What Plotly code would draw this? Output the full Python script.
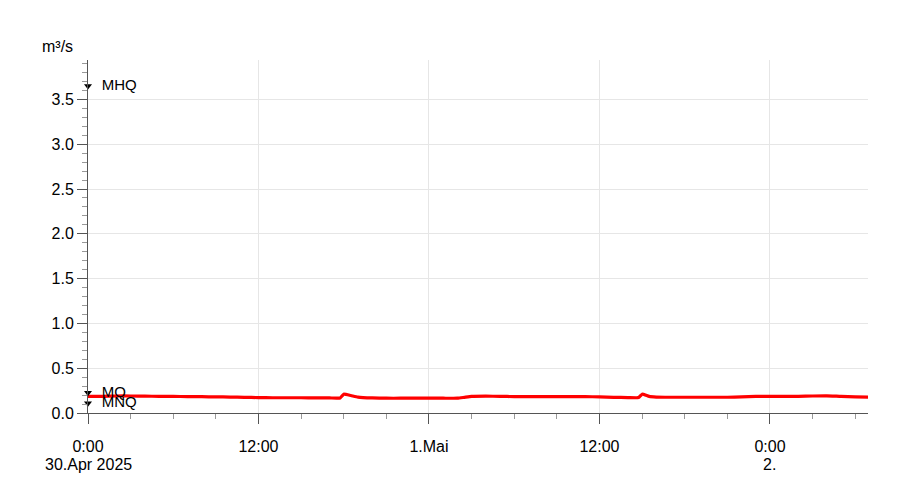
import plotly.graph_objects as go
import pandas as pd

# Hours since 30.Apr 2025 0:00 and discharge values (m³/s)
hours = [0, 1, 2, 3, 4, 5, 6, 7, 8, 9, 10, 11, 12, 13, 14, 15, 16, 17, 17.75, 18, 18.5, 19, 20, 21, 22, 23, 24, 25, 26, 26.5, 27, 28, 29, 30, 31, 32, 33, 34, 35, 36, 37, 38, 38.75, 39, 39.5, 40, 41, 42, 43, 44, 45, 46, 47, 48, 49, 50, 51, 52, 53, 54, 55]
flow = [0.185, 0.186, 0.19, 0.19, 0.188, 0.186, 0.185, 0.183, 0.182, 0.18, 0.178, 0.175, 0.172, 0.17, 0.17, 0.17, 0.168, 0.168, 0.168, 0.21, 0.195, 0.178, 0.168, 0.165, 0.165, 0.165, 0.165, 0.165, 0.165, 0.175, 0.185, 0.188, 0.186, 0.183, 0.182, 0.182, 0.182, 0.182, 0.182, 0.18, 0.175, 0.172, 0.172, 0.21, 0.185, 0.178, 0.176, 0.176, 0.176, 0.176, 0.176, 0.18, 0.185, 0.186, 0.186, 0.186, 0.19, 0.192, 0.185, 0.18, 0.178]

ref_names = ["MHQ", "MQ", "MNQ"]
ref_values = [3.65, 0.225, 0.11]

x_tick_hours = [0, 12, 24, 36, 48]
x_tick_labels = ["0:00", "12:00", "1.Mai", "12:00", "0:00"]
date_label_hours = [0, 48]
date_labels = ["30.Apr 2025", "2."]
y_tick_vals = [0.0, 0.5, 1.0, 1.5, 2.0, 2.5, 3.0, 3.5]

start = pd.Timestamp("2025-04-30 00:00")
times = [start + pd.Timedelta(hours=h) for h in hours]
tick_times = [start + pd.Timedelta(hours=h) for h in x_tick_hours]

FONT = "Liberation Sans, Arial, sans-serif"

fig = go.Figure()
fig.add_trace(go.Scatter(x=times, y=flow, mode="lines",
                         line=dict(color="#ff0000", width=3.2, shape="spline", smoothing=0.4),
                         hoverinfo="skip"))
fig.add_trace(go.Scatter(x=[start] * len(ref_values), y=ref_values, mode="markers+text",
                         marker=dict(symbol="triangle-down", size=7, color="black"),
                         text=["  " + n for n in ref_names], textposition="middle right",
                         textfont=dict(size=15, color="black", family=FONT),
                         cliponaxis=False, hoverinfo="skip"))

annotations = [dict(text="m³/s", xref="paper", yref="paper", x=-0.0615, y=1.037,
                    xanchor="left", yanchor="middle", showarrow=False,
                    font=dict(size=16, color="black"))]
for h, lab in zip(date_label_hours, date_labels):
    annotations.append(dict(text=lab, x=start + pd.Timedelta(hours=h), xref="x",
                            y=-0.145, yref="paper", xanchor="center", yanchor="middle",
                            showarrow=False, font=dict(size=16, color="black")))

fig.update_layout(
    width=892, height=488,
    margin=dict(l=80, r=32, t=52, b=83),
    paper_bgcolor="white", plot_bgcolor="white",
    showlegend=False,
    font=dict(family=FONT, size=16, color="black"),
    annotations=annotations,
)
fig.update_xaxes(
    range=[start, start + pd.Timedelta(hours=54.9)],
    tickvals=tick_times, ticktext=x_tick_labels,
    ticklabelstandoff=9,
    showgrid=True, gridcolor="#e6e6e6", gridwidth=1,
    showline=True, linecolor="#555555", linewidth=1,
    ticks="outside", ticklen=10, tickcolor="#555555",
    minor=dict(dtick=3 * 3600000, tick0=start, ticks="outside", ticklen=5, tickcolor="#999999", showgrid=False),
    zeroline=False,
)
fig.update_yaxes(
    range=[0, 3.94],
    tickvals=y_tick_vals, ticktext=[f"{v:.1f}" for v in y_tick_vals],
    showgrid=True, gridcolor="#e6e6e6", gridwidth=1,
    showline=True, linecolor="#555555", linewidth=1,
    ticks="outside", ticklen=10, tickcolor="#555555",
    minor=dict(dtick=0.1, tick0=0, ticks="outside", ticklen=5, tickcolor="#999999", showgrid=False),
    zeroline=False,
)

fig.write_html("out.html")
